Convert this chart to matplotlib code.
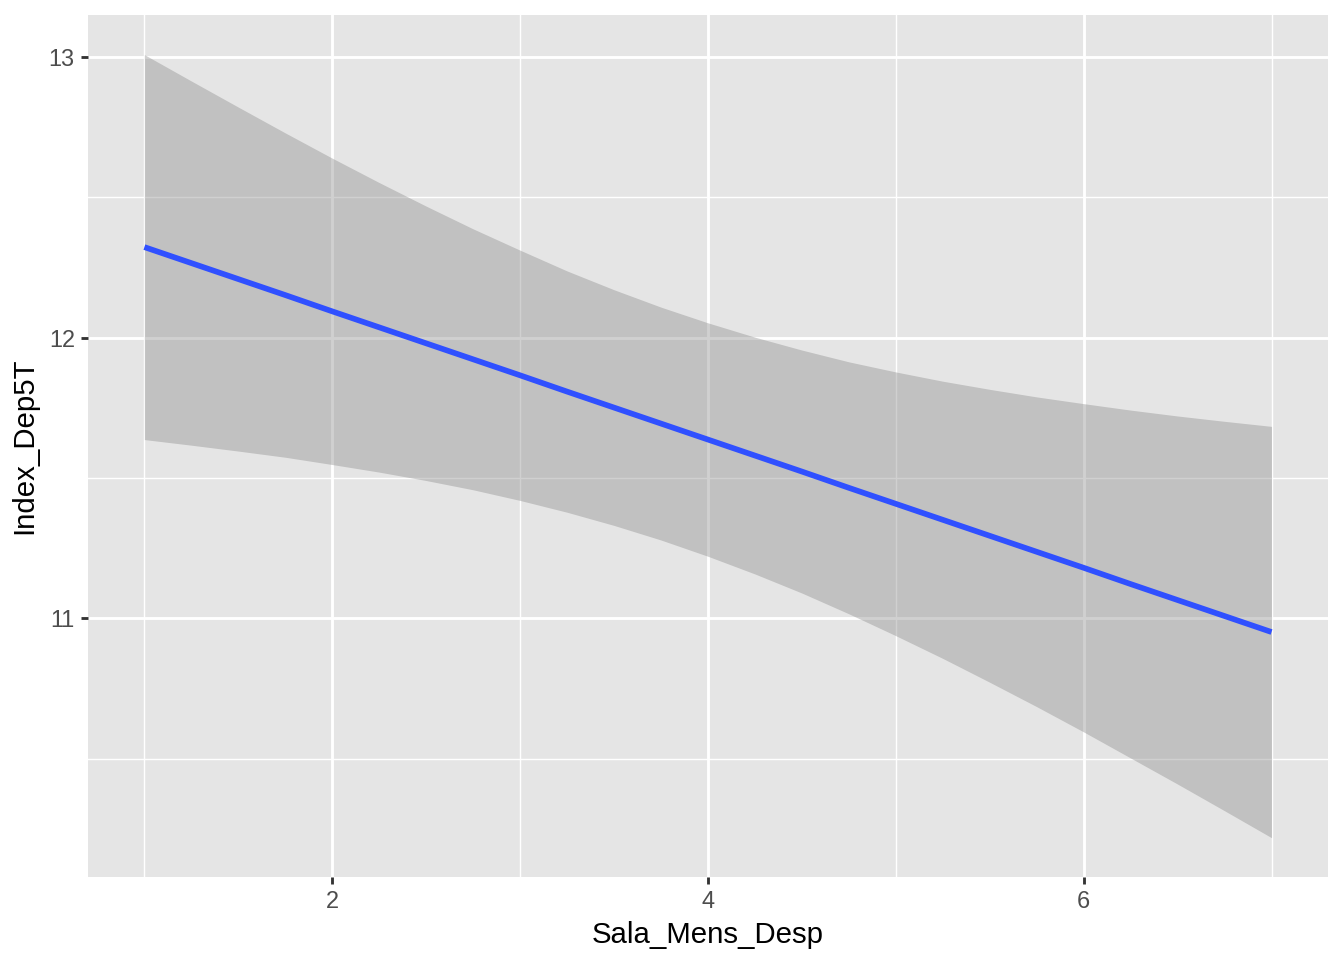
import matplotlib
matplotlib.use("Agg")
import matplotlib.pyplot as plt
from matplotlib.ticker import MultipleLocator

plt.rcParams['font.family'] = ['Liberation Sans', 'DejaVu Sans']

x_vals = [1, 1.25, 1.5, 1.75, 2, 2.25, 2.5, 2.75, 3, 3.25, 3.5, 3.75, 4,
          4.25, 4.5, 4.75, 5, 5.25, 5.5, 5.75, 6, 6.25, 6.5, 6.75, 7]
fit = [12.323, 12.266, 12.209, 12.152, 12.094, 12.037, 11.980, 11.923, 11.866,
       11.808, 11.751, 11.694, 11.637, 11.580, 11.523, 11.465, 11.408, 11.351,
       11.294, 11.237, 11.180, 11.122, 11.065, 11.008, 10.951]
upper = [13.009, 12.915, 12.822, 12.730, 12.640, 12.553, 12.469, 12.388, 12.312,
         12.238, 12.171, 12.109, 12.053, 12.002, 11.956, 11.914, 11.878, 11.845,
         11.816, 11.789, 11.765, 11.742, 11.721, 11.702, 11.684]
lower = [11.637, 11.617, 11.596, 11.574, 11.548, 11.521, 11.491, 11.458, 11.420,
         11.378, 11.331, 11.279, 11.221, 11.158, 11.090, 11.016, 10.938, 10.857,
         10.772, 10.685, 10.595, 10.502, 10.409, 10.314, 10.218]
x_ticks = [2, 4, 6]
y_ticks = [11, 12, 13]

fig = plt.figure(figsize=(7, 5), dpi=192)
ax = fig.add_axes([0.0655, 0.0865, 0.9225, 0.8975])
ax.set_facecolor('#E5E5E5')
for s in ax.spines.values():
    s.set_visible(False)

ax.set_xlim(0.7, 7.3)
ax.set_ylim(10.078, 13.149)
ax.set_xticks(x_ticks)
ax.set_yticks(y_ticks)
ax.xaxis.set_minor_locator(MultipleLocator(1))
ax.yaxis.set_minor_locator(MultipleLocator(0.5))
ax.grid(which='major', color='white', linewidth=1.07)
ax.grid(which='minor', color='white', linewidth=0.53)
ax.set_axisbelow(True)
ax.tick_params(which='minor', length=0)
ax.tick_params(which='major', length=2.75, width=1.07, color='#333333',
               labelsize=8.8, labelcolor='#4D4D4D', pad=2.2)

ax.fill_between(x_vals, lower, upper, color='#8B8B8B', alpha=0.4, linewidth=0)
ax.plot(x_vals, fit, color='#3050FF', linewidth=2.13, solid_capstyle='butt')

ax.set_xlabel('Sala_Mens_Desp', fontsize=11, color='black', labelpad=3)
ax.set_ylabel('Index_Dep5T', fontsize=11, color='black', labelpad=4)

fig.savefig('out.png', dpi=192)
